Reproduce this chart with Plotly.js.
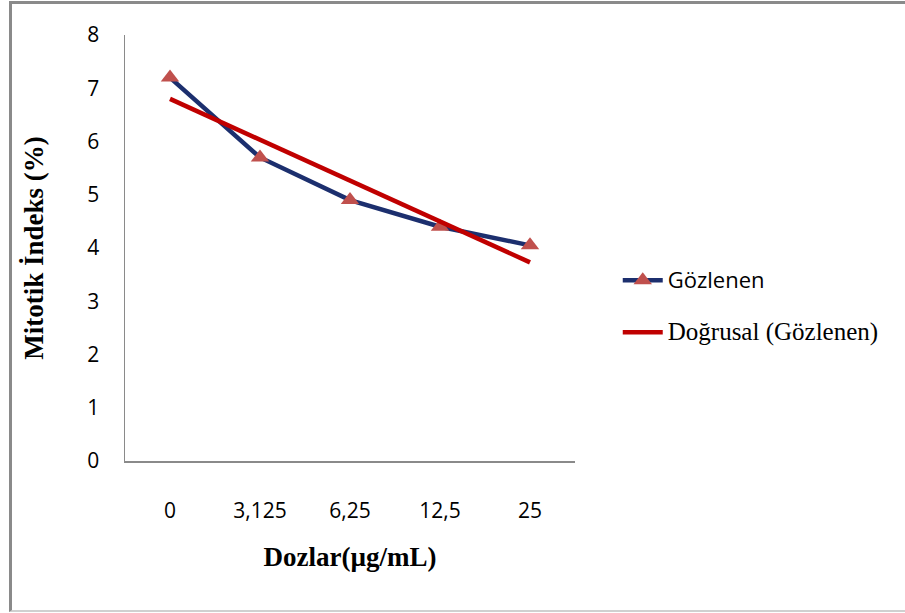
<!DOCTYPE html>
<html>
<head>
<meta charset="utf-8">
<script src="https://cdn.plot.ly/plotly-3.0.1.min.js"></script>
<style>
  html, body { margin: 0; padding: 0; background: #fff; }
  #frame { position: absolute; left: 9px; top: 1px; width: 900px; height: 611px;
           border-left: 3px solid #8a8a8a; border-top: 3px solid #8a8a8a; border-bottom: 2px solid #d0d0d0; box-sizing: border-box; }
  #chart { position: absolute; left: 0; top: 0; width: 905px; height: 613px; }
</style>
</head>
<body>
<div id="frame"></div>
<div id="chart"></div>
<script>
const doses = ["0", "3,125", "6,25", "12,5", "25"];
const observed = [7.2, 5.7, 4.9, 4.4, 4.05];
const trendDoses = ["0", "25"];
const trendValues = [6.8, 3.73];
const yTicks = [0, 1, 2, 3, 4, 5, 6, 7, 8];

const traces = [
  {
    x: doses, y: observed, type: "scatter", mode: "lines+markers",
    name: '<span style="font-family:\'Open Sans\', sans-serif;font-size:22px">Gözlenen</span>',
    legendgroup: "a",
    line: { color: "#1c2f6e", width: 4.5 },
    marker: { symbol: "triangle-up", size: 16, color: "#c0504d" }
  },
  {
    x: trendDoses, y: trendValues, type: "scatter", mode: "lines",
    name: '<span style="font-family:\'Liberation Serif\', serif;font-size:25px">Doğrusal (Gözlenen)</span>',
    legendgroup: "b",
    line: { color: "#c00000", width: 4.5 }
  }
];

const layout = {
  width: 905, height: 613,
  paper_bgcolor: "rgba(0,0,0,0)", plot_bgcolor: "rgba(0,0,0,0)",
  margin: { l: 125, r: 330, t: 35, b: 152 },
  showlegend: true,
  legend: {
    x: 1.095, y: 0.47, xanchor: "left", yanchor: "top",
    traceorder: "grouped",
    font: { family: "Open Sans, sans-serif", size: 20, color: "#000" },
    tracegroupgap: 23, itemwidth: 40
  },
  xaxis: {
    type: "category", categoryorder: "array", categoryarray: doses,
    range: [-0.5, 4.5],
    showline: true, linecolor: "#8a8a8a", linewidth: 1.5,
    showgrid: false, zeroline: false, ticks: "",
    ticklabelstandoff: 30,
    tickfont: { family: "Open Sans, sans-serif", size: 21, color: "#000" },
    title: { text: "Dozlar(µg/mL)", standoff: 24,
      font: { family: "Liberation Serif, serif", size: 27, color: "#000", weight: "bold" } }
  },
  yaxis: {
    range: [0, 8], tickvals: yTicks, ticktext: yTicks.map(String),
    showline: true, linecolor: "#8a8a8a", linewidth: 1.5,
    showgrid: false, zeroline: false, ticks: "",
    ticklabelstandoff: 20,
    tickfont: { family: "Open Sans, sans-serif", size: 21, color: "#000" },
    title: { text: "Mitotik İndeks (%)", standoff: 36,
      font: { family: "Liberation Serif, serif", size: 27, color: "#000", weight: "bold" } }
  }
};

Plotly.newPlot("chart", traces, layout, { displayModeBar: false, staticPlot: true });
</script>
</body>
</html>
